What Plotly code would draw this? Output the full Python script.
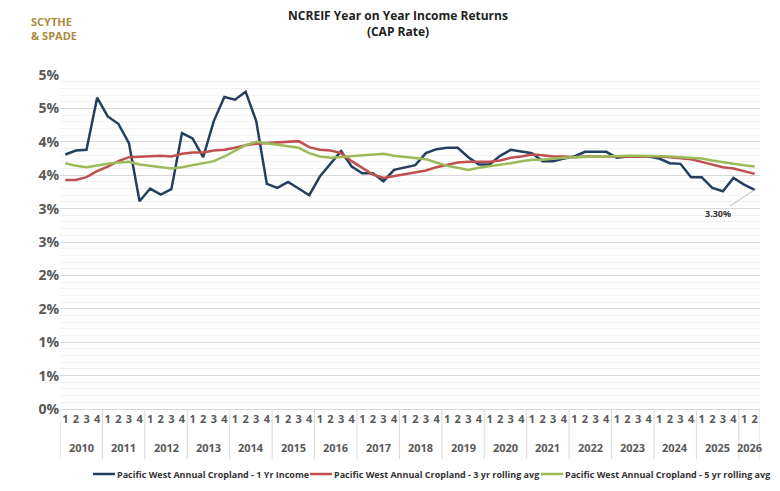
import plotly.graph_objects as go

years = [str(y) for y in range(2010, 2027)]
quarters = ["1", "2", "3", "4"]

one_yr = [3.81,3.87,3.88,4.66,4.38,4.27,3.98,3.11,3.30,3.21,3.29,4.13,4.05,3.77,4.31,4.67,
          4.63,4.75,4.31,3.37,3.31,3.40,3.30,3.20,3.48,3.67,3.86,3.63,3.53,3.53,3.41,3.58,
          3.62,3.65,3.83,3.89,3.91,3.91,3.77,3.66,3.66,3.79,3.88,3.86,3.83,3.71,3.71,3.75,
          3.78,3.85,3.85,3.85,3.76,3.78,3.78,3.78,3.75,3.68,3.67,3.47,3.47,3.31,3.26,3.46,
          3.36,3.28]
three_yr = [3.43,3.43,3.47,3.56,3.63,3.71,3.77,3.78,3.79,3.79,3.78,3.82,3.84,3.84,3.87,3.88,
            3.91,3.95,3.97,3.98,4.00,4.01,4.01,3.92,3.88,3.87,3.83,3.71,3.61,3.51,3.46,3.49,
            3.52,3.54,3.57,3.62,3.66,3.69,3.70,3.70,3.70,3.72,3.76,3.78,3.81,3.80,3.78,3.78,
            3.77,3.78,3.78,3.79,3.79,3.79,3.79,3.79,3.78,3.77,3.76,3.74,3.70,3.66,3.62,3.60,
            3.56,3.52]
five_yr = [3.68,3.64,3.62,3.65,3.67,3.69,3.70,3.66,3.64,3.62,3.60,3.62,3.65,3.67,3.71,3.78,
           3.87,3.95,4.00,3.98,3.96,3.94,3.91,3.83,3.78,3.76,3.77,3.78,3.79,3.81,3.82,3.79,
           3.77,3.76,3.74,3.69,3.64,3.61,3.58,3.61,3.63,3.66,3.68,3.71,3.73,3.73,3.75,3.76,
           3.77,3.78,3.78,3.78,3.79,3.79,3.79,3.79,3.78,3.78,3.77,3.76,3.75,3.72,3.69,3.67,
           3.65,3.63]
names = ["Pacific West Annual Cropland - 1 Yr Income",
         "Pacific West Annual Cropland - 3 yr rolling avg",
         "Pacific West Annual Cropland - 5 yr rolling avg"]
colors = ["#243F60", "#C0504D", "#9BBB59"]
ytick_vals = [i * 0.5 for i in range(11)]
ytick_text = ["0%","1%","1%","2%","2%","3%","3%","4%","4%","5%","5%"]

n = len(one_yr)
xs = list(range(n))
qlabels = [quarters[i % 4] for i in xs]

fig = go.Figure()
for vals, nm, c in zip([one_yr, three_yr, five_yr], names, colors):
    fig.add_trace(go.Scatter(x=xs, y=vals, name=nm, mode="lines",
                             line=dict(color=c, width=2.5)))

fig.add_annotation(x=xs[-1], y=one_yr[-1], text="<b>3.30%</b>",
                   showarrow=True, arrowhead=0, arrowwidth=0.8, arrowcolor="#aaaaaa",
                   ax=-37, ay=24, font=dict(size=9, color="#333"))

for k, y in enumerate(years):
    start = 4 * k
    end = min(4 * k + 3, n - 1)
    fig.add_annotation(x=(start + end) / 2, xref="x", y=-0.115, yref="paper", yanchor="middle",
                       text=f"<b>{y}</b>", showarrow=False,
                       font=dict(size=11, color="#595959"))
for b in list(range(0, n, 4)) + [n]:
    xb = b - 0.5
    fig.add_shape(type="line", xref="x", yref="paper", x0=xb, x1=xb, y0=0, y1=-0.15,
                  line=dict(color="#d9d9d9", width=1))

# custom legend (pixel positions converted to paper coords)
def px(x):
    return (x - 52) / 700
ly = (401 - 466) / 334
for nm, c, x0 in zip(names, colors, [85, 302, 533]):
    fig.add_shape(type="line", xref="paper", yref="paper", x0=px(x0), x1=px(x0 + 22),
                  y0=ly, y1=ly, line=dict(color=c, width=2.5))
    fig.add_annotation(xref="paper", yref="paper", x=px(x0 + 22), y=ly, xanchor="left",
                       yanchor="middle", text=f"<b>{nm}</b>", showarrow=False,
                       font=dict(size=9, color="#333"))

fig.update_layout(
    width=780, height=491, plot_bgcolor="white", paper_bgcolor="white",
    margin=dict(l=52, r=28, t=67, b=90), showlegend=False,
    font=dict(family="Open Sans, Arial", color="#595959"),
    title=dict(text="<b>NCREIF Year on Year Income Returns<br>(CAP Rate)</b>",
               x=0.5, y=0.975, yanchor="top", font=dict(size=12, color="#222")),
    yaxis=dict(range=[0, 5], tickvals=ytick_vals, ticktext=ytick_text,
               gridcolor="#d9d9d9", tickfont=dict(size=14, color="#595959", weight="bold"),
               zeroline=False, showline=False, automargin=False,
               minor=dict(dtick=0.1, showgrid=True, gridcolor="#f2f2f2")),
    xaxis=dict(range=[-0.5, n - 0.5], tickvals=xs, ticktext=qlabels, tickangle=0,
               tickfont=dict(size=11, color="#595959", weight="bold"),
               showline=True, linecolor="#d9d9d9", showgrid=False, zeroline=False,
               automargin=False, ticks=""),
)
fig.add_annotation(xref="paper", yref="paper", x=-0.045, y=1.19, xanchor="left",
                   text="<b>SCYTHE<br>&amp; SPADE</b>", showarrow=False, align="left",
                   font=dict(size=11, color="#b08a3e"))
fig.write_html("out.html")
